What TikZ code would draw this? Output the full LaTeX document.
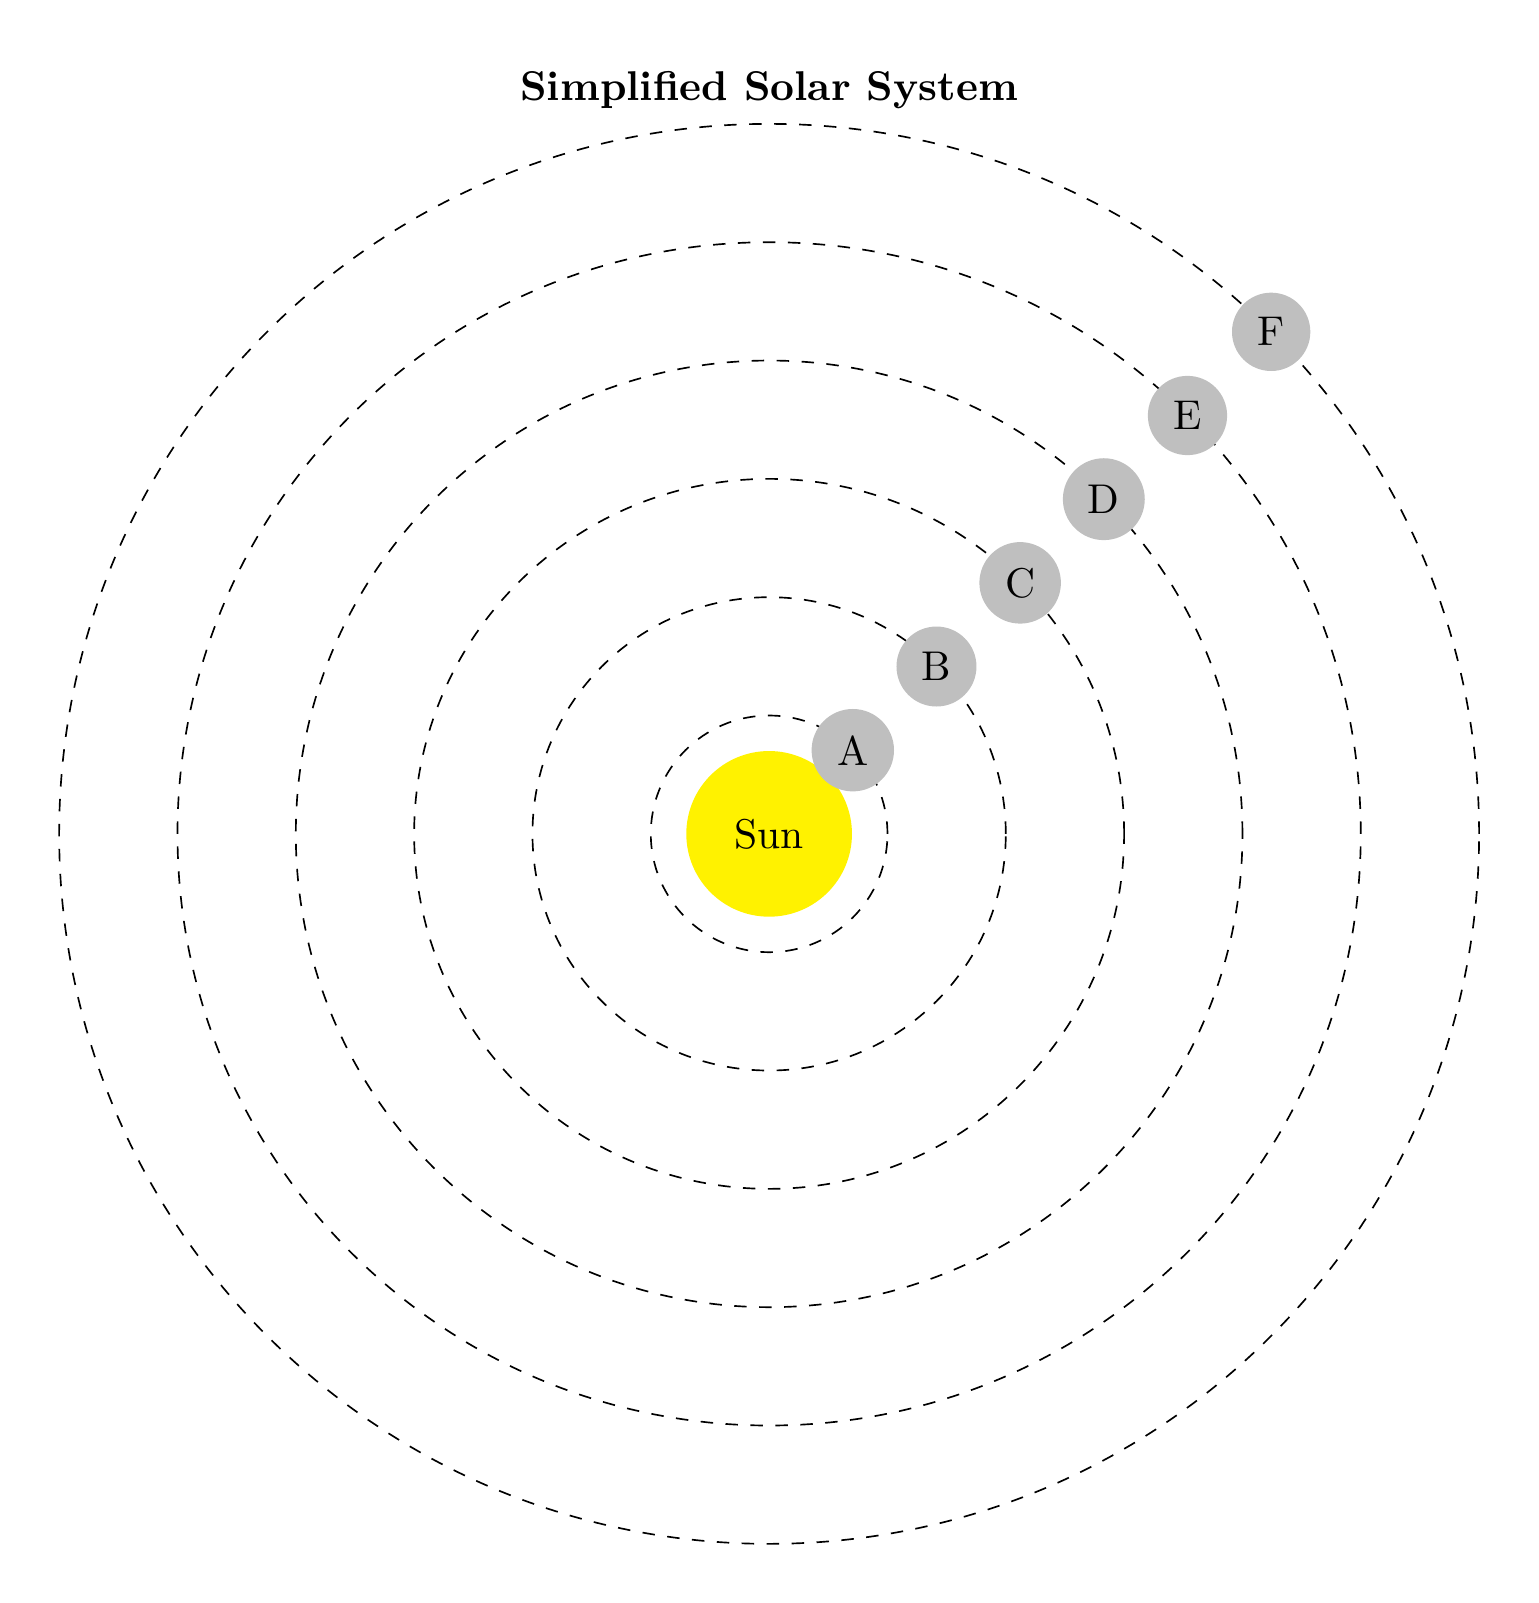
\documentclass[tikz,border=0pt]{standalone}
\usepackage{tikz}

\definecolor{sunyellow}{RGB}{255,242,0}

\begin{document}
\begin{tikzpicture}[
    orbit/.style={dashed},
    sunbody/.style={circle, fill=sunyellow, minimum size=1.4cm, inner sep=0pt},
    planet/.style={circle, fill=lightgray}
  ]
  \useasboundingbox (-6.5,-6.5) rectangle (6.5,7.047);

  \node[font=\bfseries, above] (title) at (0,6) {Simplified Solar System};

  %-------------
  \draw[orbit] (0,0) circle (1);
  \draw[orbit] (0,0) circle (2);
  \draw[orbit] (0,0) circle (3);
  \draw[orbit] (0,0) circle (4);
  \draw[orbit] (0,0) circle (5);
  \draw[orbit] (0,0) circle (6);

  %-------------
  \node[sunbody] (sun) at (0,0) {Sun};

  %-------------
  \node[planet] (planetA) at (45:1) {A};
  \node[planet] (planetB) at (45:2) {B};
  \node[planet] (planetC) at (45:3) {C};
  \node[planet] (planetD) at (45:4) {D};
  \node[planet] (planetE) at (45:5) {E};
  \node[planet] (planetF) at (45:6) {F};

\end{tikzpicture}
\end{document}
